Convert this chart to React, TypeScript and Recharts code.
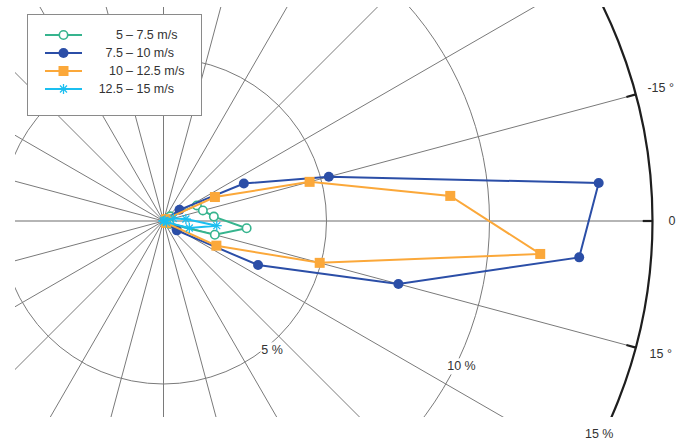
import { ScatterChart, Scatter, XAxis, YAxis, ReferenceLine, ReferenceDot } from "recharts";

// direction sectors (deg, negative = above the 0 line) and % frequency per speed bin
const sectorDeg = [-35, -25, -15, -5, 5, 15, 25, 35];
const freq5to7 = [0.25, 1.13, 1.25, 1.55, 2.56, 1.63, 0.2, 0.1];
const freq7to10 = [0.6, 2.72, 5.25, 13.4, 12.8, 7.46, 3.2, 0.5];
const freq10to12 = [0.1, 1.74, 4.64, 8.83, 11.6, 4.96, 1.79, 0.1];
const freq12to15 = [0, 0.05, 0.31, 0.69, 1.64, 0.82, 0.1, 0];

const speedLow = ["5", "7.5", "10", "12.5"];
const speedHigh = ["7.5", "10", "12.5", "15"];
const seriesColors = ["#36b48e", "#2b4ea7", "#fba83a", "#1bbff0"];
const markerKinds = ["ring", "dot", "square", "star"];

const ringPct = [5, 10, 15];
// where each ring's "% " label sits (radius in %, angle in deg)
const ringLabelPct = [5.18, 10.17, 14.87];
const ringLabelDeg = [50, 26, 26];
const spokeDeg = Array.from({ length: 24 }, (_, i) => i * 15);
const dirTickDeg = [-15, 0, 15];
const dirTickLabels = ["-15 °", "0", "15 °"];
const dirLabelPct = [15.79, 15.6, 15.79];

// geometry of the rose on the page
const W = 678;
const H = 442;
const CX = 163.5;
const CY = 221;
const PX = 32.6; // pixels per percent
const plot = { left: 15, top: 7, right: 678, bottom: 417 };
const xDomain = [(plot.left - CX) / PX, (plot.right - CX) / PX];
const yDomain = [(plot.top - CY) / PX, (plot.bottom - CY) / PX];

const FONT = '"Liberation Sans", Arial, sans-serif';

const rad = (d: number) => (d * Math.PI) / 180;
const polar = (r: number, deg: number) => ({ x: r * Math.cos(rad(deg)), y: r * Math.sin(rad(deg)) });

// each rose starts and ends at the hub
const toPath = (freq: number[]) => [
  { x: 0, y: 0, hub: true },
  ...sectorDeg.map((d, i) => polar(freq[i], d)),
  { x: 0, y: 0, hub: true },
];

const series = [freq5to7, freq7to10, freq10to12, freq12to15].map((f, i) => ({
  name: `${speedLow[i]} – ${speedHigh[i]} m/s`,
  data: toPath(f),
  color: seriesColors[i],
  kind: markerKinds[i],
}));

function Marker({ cx, cy, kind, color }: { cx: number; cy: number; kind: string; color: string }) {
  if (kind === "ring") return <circle cx={cx} cy={cy} r={4.2} fill="#fff" stroke={color} strokeWidth={1.6} />;
  if (kind === "dot") return <circle cx={cx} cy={cy} r={5} fill={color} />;
  if (kind === "square") return <rect x={cx - 5} y={cy - 5} width={10} height={10} fill={color} />;
  const s = 5;
  const d = 3.5;
  return (
    <g stroke={color} strokeWidth={1.3}>
      <line x1={cx - s} y1={cy} x2={cx + s} y2={cy} />
      <line x1={cx} y1={cy - s} x2={cx} y2={cy + s} />
      <line x1={cx - d} y1={cy - d} x2={cx + d} y2={cy + d} />
      <line x1={cx - d} y1={cy + d} x2={cx + d} y2={cy - d} />
    </g>
  );
}

function TextTag({ cx, cy, text, box }: { cx: number; cy: number; text: string; box?: boolean }) {
  const w = text.length * 7 + 2;
  return (
    <g>
      {box && <rect x={cx - w / 2} y={cy - 8} width={w} height={16} fill="#fff" />}
      <text x={cx} y={cy} textAnchor="middle" dominantBaseline="central" fontFamily={FONT} fontSize={12.5} fill="#333">
        {text}
      </text>
    </g>
  );
}

function LegendBox() {
  return (
    <div
      style={{
        position: "absolute",
        left: 27,
        top: 14,
        width: 173,
        height: 89,
        border: "1px solid #8a8a8a",
        background: "#fff",
        paddingTop: 11,
        boxSizing: "content-box",
        fontFamily: FONT,
        fontSize: 12.5,
        color: "#333",
      }}
    >
      {series.map((s, i) => (
        <div key={s.name} style={{ position: "relative", height: 18, lineHeight: "18px" }}>
          <svg width={40} height={18} style={{ position: "absolute", left: 17, top: 0 }}>
            <line x1={0} y1={9} x2={37} y2={9} stroke={s.color} strokeWidth={2} />
            <Marker cx={18.5} cy={9} kind={s.kind} color={s.color} />
          </svg>
          <span style={{ position: "absolute", right: 173 - 95, textAlign: "right", whiteSpace: "nowrap" }}>{speedLow[i]}</span>
          <span style={{ position: "absolute", left: 98, whiteSpace: "nowrap" }}>– {speedHigh[i]} m/s</span>
        </div>
      ))}
    </div>
  );
}

export default function App() {
  return (
    <div style={{ position: "absolute", left: 0, top: 0, width: W, height: H, background: "#fff" }}>
      <ScatterChart
        width={W}
        height={H}
        margin={{ top: plot.top, right: W - plot.right, bottom: H - plot.bottom, left: plot.left }}
      >
        <XAxis type="number" dataKey="x" domain={xDomain} allowDataOverflow hide />
        <YAxis type="number" dataKey="y" domain={yDomain} allowDataOverflow reversed hide />

        {spokeDeg.map((d) => (
          <ReferenceLine
            key={`spoke-${d}`}
            segment={[{ x: 0, y: 0 }, polar(15, d)]}
            stroke={d % 180 === 0 ? "#9c9c9c" : "#7a7a7a"}
            strokeWidth={d % 180 === 0 ? 1.3 : 1}
            ifOverflow="hidden"
          />
        ))}
        {ringPct.map((r) => (
          <ReferenceDot
            key={`ring-${r}`}
            x={0}
            y={0}
            r={r * PX}
            fill="none"
            stroke={r === 15 ? "#1e1e1e" : "#7a7a7a"}
            strokeWidth={r === 15 ? 2.2 : 1}
            ifOverflow="hidden"
          />
        ))}
        {dirTickDeg.map((d) => (
          <ReferenceLine
            key={`tick-${d}`}
            segment={[polar(14.7, d), polar(15, d)]}
            stroke="#1e1e1e"
            strokeWidth={2.2}
            ifOverflow="hidden"
          />
        ))}
        {ringPct.map((r, i) => {
          const p = polar(ringLabelPct[i], ringLabelDeg[i]);
          return (
            <ReferenceDot
              key={`ring-label-${r}`}
              x={p.x}
              y={p.y}
              r={0}
              ifOverflow="visible"
              shape={(props: any) => <TextTag cx={props.cx} cy={props.cy} text={`${r} %`} box />}
            />
          );
        })}
        {dirTickDeg.map((d, i) => {
          const p = polar(dirLabelPct[i], d);
          return (
            <ReferenceDot
              key={`dir-label-${d}`}
              x={p.x}
              y={p.y}
              r={0}
              ifOverflow="visible"
              shape={(props: any) => <TextTag cx={props.cx} cy={props.cy} text={dirTickLabels[i]} />}
            />
          );
        })}

        {series.map((s) => (
          <Scatter
            key={s.name}
            name={s.name}
            data={s.data}
            fill={s.color}
            line={{ stroke: s.color, strokeWidth: 2 }}
            lineType="joint"
            isAnimationActive={false}
            shape={(props: any) =>
              props.payload?.hub ? <g /> : <Marker cx={props.cx} cy={props.cy} kind={s.kind} color={s.color} />
            }
          />
        ))}
      </ScatterChart>
      <LegendBox />
    </div>
  );
}
